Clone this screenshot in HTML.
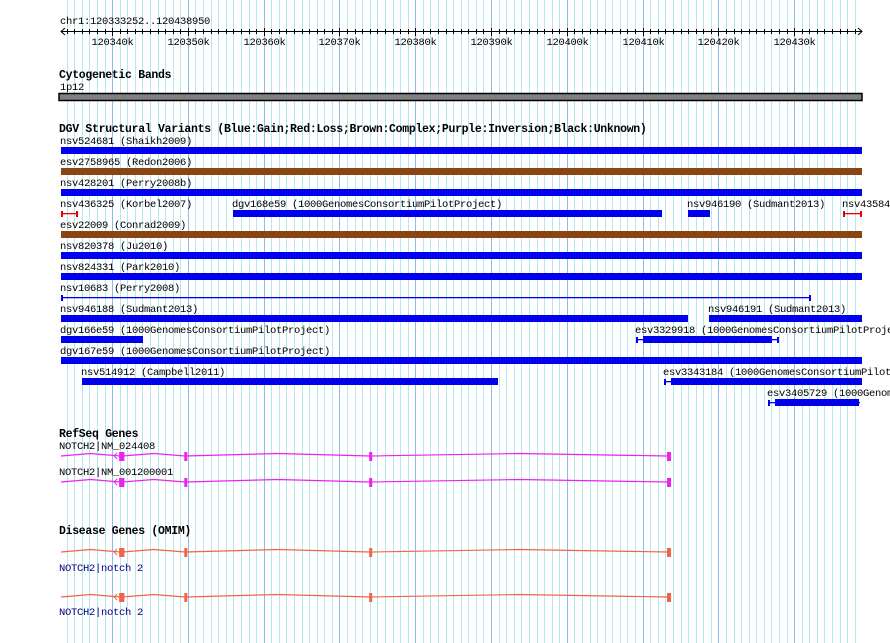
<!DOCTYPE html>
<html><head><meta charset="utf-8"><style>
html,body{margin:0;padding:0;background:#fff;}
svg{display:block;font-family:"Liberation Mono","DejaVu Sans Mono",monospace;}
.t{font-size:10.5px;fill:#000;letter-spacing:-0.3px;}
.b{font-size:11.5px;font-weight:bold;fill:#000;letter-spacing:-0.3px;}
</style></head><body>
<svg id="c" width="890" height="643" xmlns="http://www.w3.org/2000/svg">
<g id="grid"></g>
<text class="t" x="60" y="24">chr1:120333252..120438950</text>
<g id="ruler"></g>
<text class="b" x="59" y="78">Cytogenetic Bands</text>
<text class="t" x="60" y="90">1p12</text>
<rect x="59" y="93.5" width="803" height="7" fill="#808080" stroke="#000" stroke-width="1.5"/>
<text class="b" x="59" y="132">DGV Structural Variants (Blue:Gain;Red:Loss;Brown:Complex;Purple:Inversion;Black:Unknown)</text>
<g id="dgv"></g>
<text class="b" x="59" y="437">RefSeq Genes</text>
<text class="b" x="59" y="534">Disease Genes (OMIM)</text>
<g id="genes"></g>
</svg>
<script>
const START=120333252, END=120438950;
const X0=61, X1=862;
const majorTicks=[120340000,120350000,120360000,120370000,120380000,120390000,120400000,120410000,120420000,120430000];
const majorLabels=["120340k","120350k","120360k","120370k","120380k","120390k","120400k","120410k","120420k","120430k"];
const varNames=["nsv524681 (Shaikh2009)","esv2758965 (Redon2006)","nsv428201 (Perry2008b)","nsv436325 (Korbel2007)","dgv168e59 (1000GenomesConsortiumPilotProject)","nsv946190 (Sudmant2013)","nsv43584","esv22009 (Conrad2009)","nsv820378 (Ju2010)","nsv824331 (Park2010)","nsv10683 (Perry2008)","nsv946188 (Sudmant2013)","nsv946191 (Sudmant2013)","dgv166e59 (1000GenomesConsortiumPilotProject)","esv3329918 (1000GenomesConsortiumPilotProject)","dgv167e59 (1000GenomesConsortiumPilotProject)","nsv514912 (Campbell2011)","esv3343184 (1000GenomesConsortiumPilotProject)","esv3405729 (1000GenomesConsortiumPilotProject)"];
const varStart=[0,0,0,0,22.70,82.74,103.2,0,0,0,0,0,85.51,0,75.88,0,2.77,79.57,93.30];
const varEnd=[105.7,105.7,105.7,2.24,79.31,85.64,105.7,105.7,105.7,105.7,98.97,82.74,105.7,10.82,94.75,105.7,57.67,105.7,105.44];
const varInner=[null,null,null,null,null,null,null,null,null,null,null,null,null,null,[76.80,93.82],null,null,[80.5,105.7],[94.22,105.3]];
const varRow=[0,1,2,3,3,3,3,4,5,6,7,8,8,9,9,10,11,11,12];
const varType=["gain","complex","gain","loss","gain","gain","loss","complex","gain","gain","gain","gain","gain","gain","gain","gain","gain","gain","gain"];
const varThin=[0,0,0,1,0,0,1,0,0,0,1,0,0,0,0,0,0,0,0];
const exons=[7.8,8.1,16.4,40.8,80.1];
const svgNS="http://www.w3.org/2000/svg";
const px=bp=>X0+(bp-START)*(X1-X0)/(END-START);
const pk=kb=>px(START+kb*1000);
function mk(tag,attrs,parent){const e=document.createElementNS(svgNS,tag);for(const k in attrs)e.setAttribute(k,attrs[k]);parent.appendChild(e);return e;}
const grid=document.getElementById('grid');
for(let b=Math.ceil(START/1000)*1000;b<=END;b+=1000){
  const x=Math.round(px(b))+0.5;const maj=b%10000===0;
  const l=mk('line',{x1:x,x2:x,y1:0,y2:643,stroke:maj?'#88bfe6':'#b2e8ee','stroke-width':1},grid);
  
  
}
const ruler=document.getElementById('ruler');
mk('line',{x1:61,x2:862,y1:31.5,y2:31.5,stroke:'#000'},ruler);
mk('polyline',{points:'65,28 61,31.5 65,35',fill:'none',stroke:'#000'},ruler);
mk('polyline',{points:'858,28 862,31.5 858,35',fill:'none',stroke:'#000'},ruler);
for(let b=Math.ceil(START/1000)*1000;b<=END;b+=1000){
  const x=Math.round(px(b))+0.5;
  mk('line',{x1:x,x2:x,y1:29,y2:34,stroke:'#000'},ruler);
}
majorTicks.forEach((b,i)=>{
  const x=Math.round(px(b))+0.5;
  mk('line',{x1:x,x2:x,y1:28,y2:36,stroke:'#000'},ruler);
  const t=mk('text',{x:x,y:45,'text-anchor':'middle',class:'t'},ruler);t.textContent=majorLabels[i];
  
  
});
const colors={gain:'#0000ee',loss:'#ee0000',complex:'#8b4513'};
const dgv=document.getElementById('dgv');
varNames.forEach((n,i)=>{
  const top=147+21*varRow[i];
  const x1=Math.round(pk(varStart[i])),x2=Math.round(pk(varEnd[i]));
  const c=colors[varType[i]];
  const g=mk('g',{},dgv);
  
  
  const t=mk('text',{x:x1-1,y:top-3,class:'t'},g);t.textContent=n;
  if(varThin[i]){
    mk('rect',{x:x1,y:top+3,width:x2-x1,height:1.3,fill:c},g);
    mk('rect',{x:x1,y:top+1,width:2,height:6,fill:c},g);
    mk('rect',{x:x2-2,y:top+1,width:2,height:6,fill:c},g);
  } else if(varInner[i]){
    mk('rect',{x:x1,y:top+3,width:x2-x1,height:1.3,fill:c},g);
    mk('rect',{x:x1,y:top+1,width:2,height:6,fill:c},g);
    const a=Math.round(pk(varInner[i][0])),b=Math.round(pk(varInner[i][1]));
    mk('rect',{x:a,y:top,width:b-a,height:7,fill:c},g);
    if(varEnd[i]<105)mk('rect',{x:x2-2,y:top+1,width:2,height:6,fill:c},g);
  } else {
    mk('rect',{x:x1,y:top,width:x2-x1,height:7,fill:c},g);
  }
});
const genes=document.getElementById('genes');
const geneRows=[{y:456,lab:'NOTCH2|NM_024408',ly:449,c:'#ee22ee',lc:'#000'},
 {y:482,lab:'NOTCH2|NM_001200001',ly:475,c:'#ee22ee',lc:'#000'},
 {y:552,lab:'NOTCH2|notch 2',ly:571,c:'#f26448',lc:'#000080'},
 {y:597,lab:'NOTCH2|notch 2',ly:615,c:'#f26448',lc:'#000080'}];
geneRows.forEach((r,ri)=>{
  const g=mk('g',{},genes);
  
  
  const t=mk('text',{x:59,y:r.ly,class:'t'},g);t.textContent=r.lab;t.setAttribute('style','fill:'+r.lc);
  const xs=[61].concat(exons.map(pk));
  let pts=[];
  for(let k=0;k<xs.length-1;k++){
    const a=xs[k],b=xs[k+1],m=(a+b)/2,h=Math.min(2.5,(b-a)/10);
    pts.push(a+','+(r.y),m+','+(r.y-h),b+','+r.y);
  }
  mk('polyline',{points:pts.join(' '),fill:'none',stroke:r.c,'stroke-width':1.2},g);
  const ax=pk(7.0);
  mk('polyline',{points:(ax+3)+','+(r.y-3)+' '+ax+','+r.y+' '+(ax+3)+','+(r.y+3),fill:'none',stroke:r.c},g);
  exons.forEach((e,k)=>{
    const x=pk(e);const w=k===exons.length-1?4:3;
    mk('rect',{x:x-1,y:r.y-4,width:w,height:9,fill:r.c},g);
  });
});
</script>
</body></html>
